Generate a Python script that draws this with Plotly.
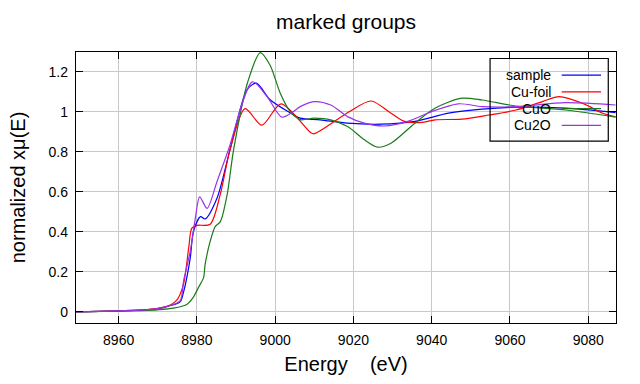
import plotly.graph_objects as go

# ---- data ----
sample_e = [8949, 8955, 8960, 8965.5, 8970, 8972.4, 8975.7, 8976.6, 8978.3, 8979.1, 8980.9, 8982.1,
            8985.1, 8988.5, 8992.8, 8995.2, 8998.7, 9003.8, 9006.4, 9011.5, 9018.5, 9027.1,
            9035.7, 9044.3, 9052.9, 9061.5, 9074.3, 9087]
sample_v = [0.0, 0.002, 0.005, 0.008, 0.016, 0.027, 0.05, 0.10, 0.27, 0.40, 0.476, 0.464,
            0.566, 0.813, 1.11, 1.143, 1.06, 0.995, 0.968, 0.96, 0.943, 0.938,
            0.952, 0.993, 1.013, 1.023, 1.018, 0.996]

cufoil_e = [8949, 8955, 8960, 8965.5, 8970, 8972.4, 8974.9, 8976.6, 8977.9, 8978.7, 8980.0, 8983.4,
            8986.0, 8988.5, 8992.3, 8996.6, 9001.5, 9008.9, 9009.9, 9018.9, 9024.5, 9029.6,
            9033.1, 9037.4, 9040.9, 9047.7, 9054.6, 9061.5, 9068.3, 9072.6, 9078.6, 9083.7, 9087]
cufoil_v = [0.0, 0.002, 0.005, 0.008, 0.017, 0.027, 0.06, 0.14, 0.32, 0.418, 0.432, 0.438,
            0.59, 0.813, 1.016, 0.933, 1.04, 0.899, 0.89, 1.0, 1.054, 0.993,
            0.952, 0.947, 0.96, 0.963, 0.984, 1.009, 1.051, 1.076, 1.042, 0.993, 0.975]

cuo_e = [8949, 8960, 8965.5, 8970, 8974, 8977.5, 8979.1, 8980.4, 8981.7, 8982.1, 8983.4, 8984.7,
         8986.0, 8987.7, 8989.4, 8993.0, 8996.2, 8998.7, 9001.3, 9003.8, 9006.4, 9009.9, 9014.2,
         9018.5, 9022.8, 9026.2, 9029.6, 9035.7, 9040.8, 9047.7, 9052.9, 9061.5, 9074.3, 9087]
cuo_v = [0.0, 0.003, 0.006, 0.01, 0.018, 0.038, 0.073, 0.122, 0.171, 0.237, 0.353, 0.427,
         0.451, 0.583, 0.813, 1.15, 1.296, 1.233, 1.093, 1.002, 0.961, 0.968, 0.96,
         0.926, 0.86, 0.823, 0.843, 0.943, 1.018, 1.068, 1.059, 1.029, 1.009, 0.973]

cu2o_e = [8949, 8955, 8960, 8965.5, 8970, 8972.4, 8975.7, 8976.6, 8978.3, 8979.6, 8980.7, 8982.6,
          8985.1, 8988.1, 8994.2, 8997.9, 9001.7, 9004.7, 9006.4, 9009.9, 9014.2, 9018.5,
          9022.8, 9027.9, 9033.9, 9040.0, 9046.8, 9052.9, 9061.5, 9074.3, 9087]
cu2o_v = [0.0, 0.002, 0.005, 0.008, 0.016, 0.027, 0.055, 0.155, 0.303, 0.468, 0.575, 0.517,
          0.649, 0.813, 1.15, 1.077, 0.973, 1.002, 1.026, 1.051, 1.034, 0.976,
          0.943, 0.929, 0.952, 1.001, 1.04, 1.026, 1.026, 1.046, 1.034]

series_names = ["sample", "Cu-foil", "CuO", "Cu2O"]
series_colors = ["#0000ff", "#ff0000", "#1a7a1a", "#9a32e6"]
x_ticks = [8960, 8980, 9000, 9020, 9040, 9060, 9080]
y_ticks = [0, 0.2, 0.4, 0.6, 0.8, 1, 1.2]
y_tick_text = ["0", "0.2", "0.4", "0.6", "0.8", "1", "1.2"]

FONT = "Liberation Sans, Arial, sans-serif"

fig = go.Figure()
for name, color, xe, yv in zip(series_names, series_colors,
                               [sample_e, cufoil_e, cuo_e, cu2o_e],
                               [sample_v, cufoil_v, cuo_v, cu2o_v]):
    fig.add_trace(go.Scatter(x=xe, y=yv, mode="lines", name=name,
                             line=dict(color=color, width=1.2, shape="spline", smoothing=0.8),
                             showlegend=False))

# custom legend (text left, line sample right, like the reference)
legend_y = [0.915, 0.853, 0.791, 0.729]
for name, color, ly in zip(series_names, series_colors, legend_y):
    fig.add_annotation(xref="paper", yref="paper", x=0.8834, y=ly, text=name, showarrow=False,
                       xanchor="right", yanchor="middle", font=dict(family=FONT, size=14, color="black"))
    fig.add_shape(type="line", xref="paper", yref="paper", x0=0.8995, x1=0.9722, y0=ly, y1=ly,
                  line=dict(color=color, width=1.2))
fig.add_shape(type="rect", xref="paper", yref="paper", x0=0.7668, x1=0.9857, y0=0.6708, y1=0.976,
              line=dict(color="black", width=1.2), fillcolor="rgba(0,0,0,0)")

axis_common = dict(showline=True, linecolor="black", linewidth=1.3, mirror="ticks",
                   ticks="inside", ticklen=7, tickwidth=1.2, tickcolor="black",
                   showgrid=True, gridcolor="#c8c8c8", gridwidth=1, zeroline=False,
                   tickfont=dict(family=FONT, size=14, color="black"))

fig.update_xaxes(range=[8949.1, 9087.1], tickvals=x_ticks,
                 ticktext=[str(t) for t in x_ticks],
                 title=dict(text="Energy\u00a0\u00a0\u00a0\u00a0(eV)", font=dict(family=FONT, size=20, color="black"),
                            standoff=10),
                 ticklabelstandoff=4, **axis_common)
fig.update_yaxes(range=[-0.056, 1.299], tickvals=y_ticks, ticktext=y_tick_text,
                 title=dict(text="normalized xμ(E)", font=dict(family=FONT, size=20, color="black"),
                            standoff=17),
                 ticklabelstandoff=4, **axis_common)

fig.update_layout(
    width=640, height=384,
    margin=dict(l=76, r=24, t=52, b=58),
    paper_bgcolor="white", plot_bgcolor="white",
    title=dict(text="marked groups", x=0.5, xref="paper", xanchor="center",
               y=1 - 22 / 384, yanchor="middle", yref="container",
               font=dict(family=FONT, size=21, color="black")),
    font=dict(family=FONT, color="black"),
)

fig.write_html("out.html", config={"displayModeBar": False},
               post_script="document.body.style.margin='0px';")
